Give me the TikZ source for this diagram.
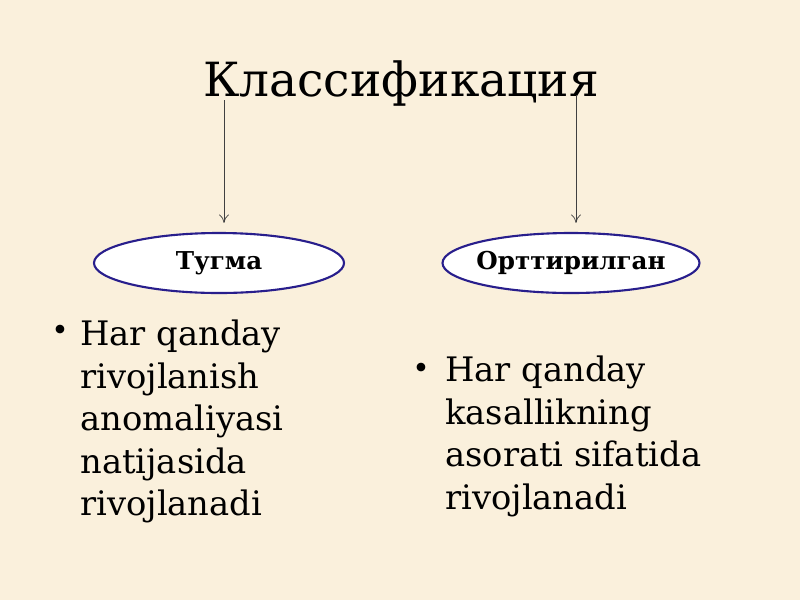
\documentclass[tikz,border=0pt]{standalone}
\usepackage{fontspec}
\setmainfont{DejaVu Serif}
\usetikzlibrary{arrows.meta, shapes.geometric}
\definecolor{paper}{RGB}{250,240,220}
\definecolor{rim}{RGB}{40,30,140}
\tikzset{
	kind/.style={ellipse, draw=rim, line width=1.5pt, fill=white, minimum width=250*0.025cm, minimum height=60*0.025cm, inner sep=0pt, font=\fontsize{17.5}{20}\selectfont\bfseries},
	body/.style={anchor=north west, inner sep=0pt, align=left, font=\fontsize{24}{30.2}\selectfont},
	dot/.style={inner sep=0pt, font=\fontsize{21}{24}\selectfont},
	link/.style={-{To[length=6pt,width=7pt]}, line width=0.5pt, color=black!75}
}
\begin{document}
\begin{tikzpicture}[x=0.025cm, y=-0.025cm]
	\fill[paper] (0, 0) rectangle (800, 600);
	\useasboundingbox (0, 0) rectangle (800, 600);
	%
	\node[inner sep=0pt, anchor=base, font=\fontsize{33.5}{40}\selectfont] (title) at (401, 96) {Классификация};
	\node[kind] (tugma) at (219, 263) {Тугма};
	\node[kind, minimum width=257*0.025cm, inner xsep=-4pt] (ortt) at (571, 263) {Орттирилган};
	%
	\coordinate (s1) at (224, 100);
	\coordinate (s2) at (576, 95);
	\draw[link, shorten >=9*0.025cm] (s1) -- (s1 |- tugma.north);
	\draw[link, shorten >=9*0.025cm] (s2) -- (s2 |- ortt.north);
	%
	\node[dot] (b1) at (60, 333) {•};
	\node[dot] (b2) at (421, 371) {•};
	\node[body] (t1) at (80, 320) {Har qanday\\rivojlanish\\anomaliyasi\\natijasida\\rivojlanadi};
	\node[body] (t2) at (445, 356) {Har qanday\\kasallikning\\asorati sifatida\\rivojlanadi};
\end{tikzpicture}
\end{document}
